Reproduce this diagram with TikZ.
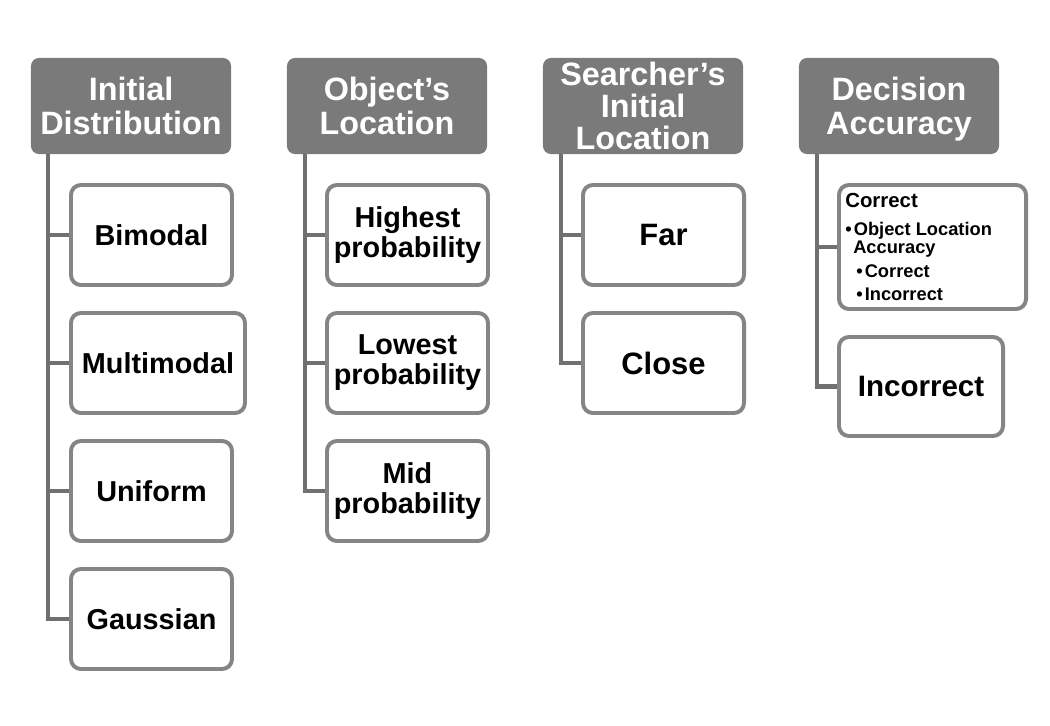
\documentclass[tikz,border=0pt]{standalone}
\usepackage{fontspec}
\setmainfont{Liberation Sans}
\usepackage{tikz}
\usetikzlibrary{positioning}
\definecolor{hdrgray}{HTML}{7A7A7A}
\definecolor{boxgray}{HTML}{858585}
\definecolor{linegray}{HTML}{707070}

\begin{document}
\begin{tikzpicture}[x=0.025cm,y=-0.025cm,
  hdr/.style={fill=hdrgray,rounded corners=0.2cm,minimum width=5cm,minimum height=2.4cm,
    text=white,align=center,font=\fontsize{23}{24}\selectfont\bfseries,inner sep=0pt,text depth=0pt},
  item/.style={draw=boxgray,line width=2.8pt,fill=white,rounded corners=0.25cm,
    minimum width=4.025cm,minimum height=2.5cm,align=center,
    font=\fontsize{20.5}{21.3}\selectfont\bfseries,inner sep=0pt},
  bigitem/.style={item,font=\fontsize{22}{24}\selectfont\bfseries},
  conn/.style={draw=linegray,line width=3.4pt},
  small/.style={anchor=base west,inner sep=0pt,font=\fontsize{13}{14}\selectfont\bfseries}]
\useasboundingbox (0,0) rectangle (1050,725);

% headers
\node[hdr] (hdrdist) at (131,106) {Initial\\Distribution};
\node[hdr] (hdrobj) at (387,106) {Object's\\Location};
\node[hdr,font=\fontsize{23}{22.8}\selectfont\bfseries] (hdrsearch) at (643,106) {Searcher's\\Initial\\Location};
\node[hdr] (hdracc) at (899,106) {Decision\\Accuracy};

% trunks
\coordinate (trunkdist) at (48,154);
\coordinate (trunkobj) at (305,154);
\coordinate (trunksearch) at (561,154);
\coordinate (trunkacc) at (817,154);

% initial distribution
\node[item] (bimodal) at (151.5,235) {Bimodal};
\node[item,minimum width=4.35cm] (multimodal) at (158,363) {Multimodal};
\node[item] (uniform) at (151.5,491) {Uniform};
\node[item] (gauss) at (151.5,619) {Gaussian};

% object location
\node[item] (highest) at (407.5,235) {Highest\\probability};
\node[item] (lowest) at (407.5,363) {Lowest\\probability};
\node[item] (mid) at (407.5,491) {Mid\\probability};

% searcher location
\node[bigitem] (far) at (663.5,235) {Far};
\node[bigitem] (close) at (663.5,363) {Close};

% decision accuracy
\node[item,minimum width=4.675cm,minimum height=3.1cm] (correct) at (932.5,247) {};
\node[bigitem,minimum width=4.1cm,minimum height=2.475cm,font=\fontsize{21}{24}\selectfont\bfseries] (incorrect) at (921,386.5) {Incorrect};
\node[small,font=\fontsize{14.5}{15}\selectfont\bfseries] (corrhead) at (845,207) {Correct};
\node[small] (corrobj) at (845,235) {\textbullet\hspace{1.5pt}Object Location};
\node[small] (corracc) at (853,253) {Accuracy};
\node[small] (corrsubc) at (856,277) {\textbullet\hspace{1.5pt}Correct};
\node[small] (corrsubi) at (856,300) {\textbullet\hspace{1.5pt}Incorrect};

% connectors
\draw[conn] (trunkdist) |- (gauss.west);
\draw[conn] (trunkdist |- bimodal) -- (bimodal.west);
\draw[conn] (trunkdist |- multimodal) -- (multimodal.west);
\draw[conn] (trunkdist |- uniform) -- (uniform.west);

\draw[conn] (trunkobj) |- (mid.west);
\draw[conn] (trunkobj |- highest) -- (highest.west);
\draw[conn] (trunkobj |- lowest) -- (lowest.west);

\draw[conn] (trunksearch) |- (close.west);
\draw[conn] (trunksearch |- far) -- (far.west);

\draw[conn] (trunkacc) |- (incorrect.west);
\draw[conn] (trunkacc |- correct) -- (correct.west);
\end{tikzpicture}
\end{document}
